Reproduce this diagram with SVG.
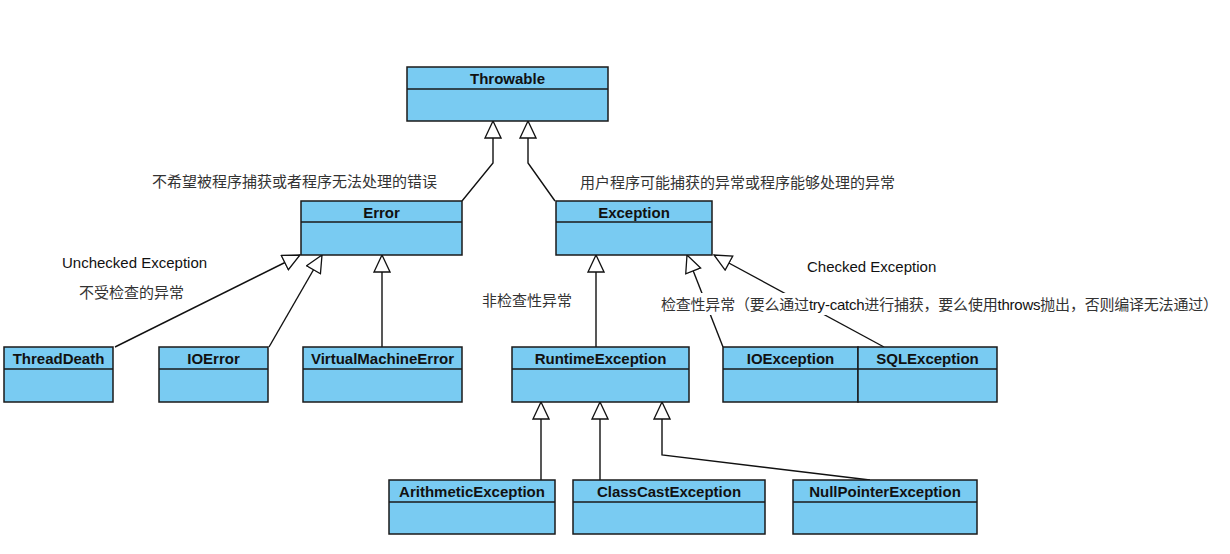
<svg xmlns="http://www.w3.org/2000/svg" width="1230" height="554" viewBox="0 0 1230 554">
<style>
.box{fill:#79CBF2;stroke:#1a1a1a;stroke-width:1.5}
.div{stroke:#1a1a1a;stroke-width:1.5}
.name{font-family:"Liberation Sans",Arial,sans-serif;font-weight:bold;font-size:15px;fill:#111;text-anchor:middle}
.conn{fill:none;stroke:#111;stroke-width:1.4;marker-end:url(#tri)}
.cn{font-family:"Liberation Sans","Noto Sans CJK SC",sans-serif;font-size:15px;fill:#333}
.en{font-family:"Liberation Sans",Arial,sans-serif;font-size:15px;fill:#111}
</style>
<defs>
<marker id="tri" viewBox="-1 -1 19 18" refX="17" refY="8" markerWidth="19" markerHeight="18" markerUnits="userSpaceOnUse" orient="auto">
<path d="M0,0 L17,8 L0,16 Z" fill="#fff" stroke="#111" stroke-width="1.3"/>
</marker>
</defs>
<rect width="1230" height="554" fill="#fff"/>
<g id="connectors">
<polyline class="conn" points="462,201 493,163 493,121"/>
<polyline class="conn" points="555,201 528,163 528,121"/>
<polyline class="conn" points="115,347 300,255"/>
<polyline class="conn" points="269,347 322,255"/>
<polyline class="conn" points="382,347 382,255"/>
<polyline class="conn" points="596,347 596,255"/>
<polyline class="conn" points="723,347 687,255"/>
<polyline class="conn" points="884,347 714,255"/>
<polyline class="conn" points="541,480 541,402"/>
<polyline class="conn" points="600,480 600,402"/>
<polyline class="conn" points="870,480 662,455 662,402"/>
</g>
<g id="labels">
<text class="cn" x="152" y="187">不希望被程序捕获或者程序无法处理的错误</text>
<text class="cn" x="580" y="188">用户程序可能捕获的异常或程序能够处理的异常</text>
<text class="en" x="62" y="268">Unchecked Exception</text>
<text class="cn" x="79" y="298">不受检查的异常</text>
<text class="cn" x="482" y="306">非检查性异常</text>
<text class="en" x="807" y="272">Checked Exception</text>
<rect x="657" y="293" width="566" height="22" fill="#fff"/>
<text class="cn" x="661" y="310" textLength="557" lengthAdjust="spacing">检查性异常（要么通过<tspan fill="#111">try-catch</tspan>进行捕获，要么使用<tspan fill="#111">throws</tspan>抛出，否则编译无法通过）</text>
</g>
<g id="Throwable">
<rect class="box" x="407" y="67" width="201" height="54"/>
<line class="div" x1="407" y1="89" x2="608" y2="89"/>
<text class="name" x="507.5" y="84">Throwable</text>
</g>
<g id="Error">
<rect class="box" x="301" y="201" width="161" height="54"/>
<line class="div" x1="301" y1="222" x2="462" y2="222"/>
<text class="name" x="381.5" y="218">Error</text>
</g>
<g id="Exception">
<rect class="box" x="556" y="201" width="156" height="54"/>
<line class="div" x1="556" y1="222" x2="712" y2="222"/>
<text class="name" x="634" y="218">Exception</text>
</g>
<g id="ThreadDeath">
<rect class="box" x="4" y="347" width="109" height="55"/>
<line class="div" x1="4" y1="369" x2="113" y2="369"/>
<text class="name" x="58.5" y="364">ThreadDeath</text>
</g>
<g id="IOError">
<rect class="box" x="159" y="347" width="109" height="55"/>
<line class="div" x1="159" y1="369" x2="268" y2="369"/>
<text class="name" x="213.5" y="364">IOError</text>
</g>
<g id="VirtualMachineError">
<rect class="box" x="303" y="347" width="159" height="55"/>
<line class="div" x1="303" y1="369" x2="462" y2="369"/>
<text class="name" x="382.5" y="364">VirtualMachineError</text>
</g>
<g id="RuntimeException">
<rect class="box" x="512" y="347" width="177" height="55"/>
<line class="div" x1="512" y1="369" x2="689" y2="369"/>
<text class="name" x="600.5" y="364">RuntimeException</text>
</g>
<g id="IOException">
<rect class="box" x="723" y="347" width="135" height="55"/>
<line class="div" x1="723" y1="369" x2="858" y2="369"/>
<text class="name" x="790.5" y="364">IOException</text>
</g>
<g id="SQLException">
<rect class="box" x="858" y="347" width="139" height="55"/>
<line class="div" x1="858" y1="369" x2="997" y2="369"/>
<text class="name" x="927.5" y="364">SQLException</text>
</g>
<g id="ArithmeticException">
<rect class="box" x="389" y="480" width="166" height="54"/>
<line class="div" x1="389" y1="502" x2="555" y2="502"/>
<text class="name" x="472" y="497">ArithmeticException</text>
</g>
<g id="ClassCastException">
<rect class="box" x="573" y="480" width="192" height="54"/>
<line class="div" x1="573" y1="502" x2="765" y2="502"/>
<text class="name" x="669" y="497">ClassCastException</text>
</g>
<g id="NullPointerException">
<rect class="box" x="793" y="480" width="184" height="54"/>
<line class="div" x1="793" y1="502" x2="977" y2="502"/>
<text class="name" x="885" y="497">NullPointerException</text>
</g>
</svg>
